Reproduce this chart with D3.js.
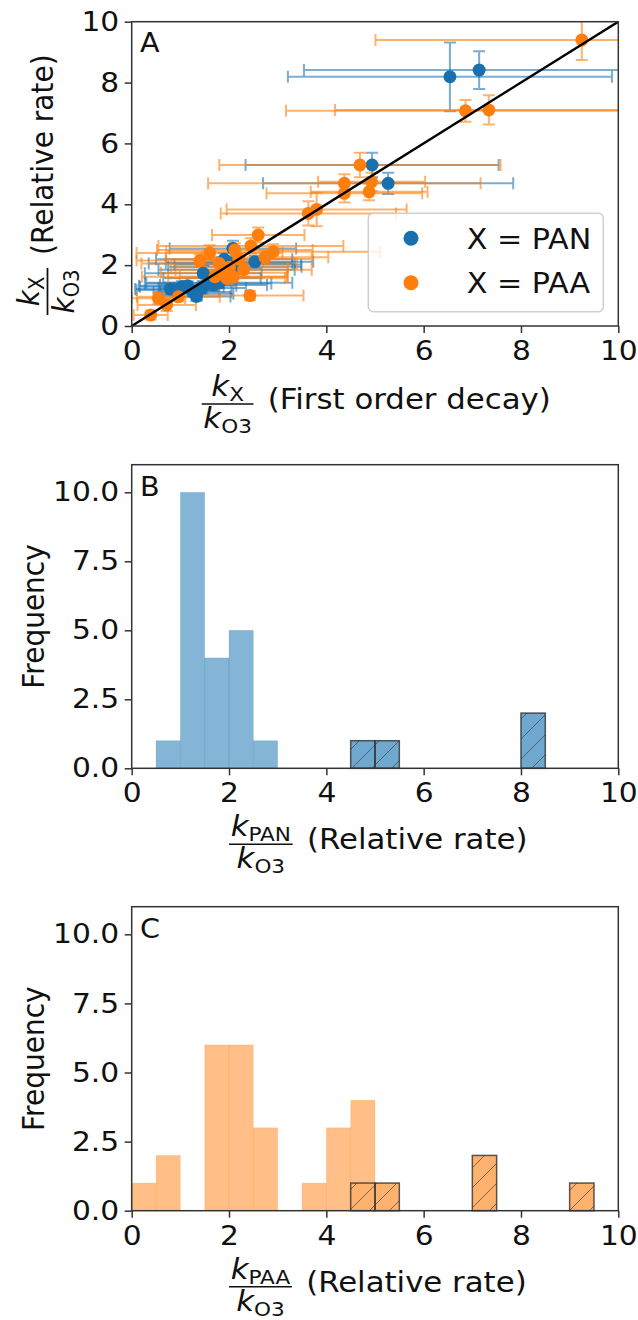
<!DOCTYPE html>
<html><head><meta charset="utf-8">
<script src="https://cdn.jsdelivr.net/npm/d3@7"></script>
<style>body{margin:0;background:#fff} text{font-family:"DejaVu Sans",sans-serif}</style>
</head><body><svg id="c" width="638" height="1320"></svg>
<script>
// ---------- DATA ----------
// Panel A: X = PAN
const panX    = [6.54, 7.14, 4.94, 5.27, 2.53, 1.90, 2.00, 1.85, 2.18, 2.08, 2.12, 1.47, 1.65, 1.95, 0.79, 1.03, 1.34, 1.15, 1.45, 1.57, 1.68, 1.80, 1.25, 0.95, 1.33];
const panY    = [8.19, 8.41, 5.29, 4.69, 2.11, 2.19, 2.08, 2.05, 2.02, 2.55, 1.95, 1.73, 1.58, 1.85, 1.22, 1.29, 1.06, 1.32, 1.25, 1.40, 1.35, 1.42, 1.12, 1.18, 0.97];
const panXerr = [3.33, 3.60, 2.60, 2.57, 1.20, 1.40, 1.30, 1.50, 1.30, 1.30, 1.37, 1.20, 1.00, 1.40, 0.72, 0.86, 0.75, 1.00, 0.90, 1.30, 1.10, 1.50, 0.80, 0.85, 0.70];
const panYerr = [1.13, 0.62, 0.40, 0.35, 0.20, 0.20, 0.18, 0.20, 0.22, 0.25, 0.20, 0.25, 0.18, 0.20, 0.20, 0.18, 0.20, 0.15, 0.18, 0.22, 0.20, 0.18, 0.15, 0.20, 0.15];
// Panel A: X = PAA
const paaX    = [9.25, 6.86, 7.34, 4.69, 4.37, 4.93, 4.88, 4.37, 3.80, 3.63, 2.60, 2.45, 2.12, 2.91, 2.74, 1.40, 2.01, 1.71, 1.95, 2.09, 2.43, 0.55, 0.72, 0.96, 0.39, 1.80, 2.20, 1.90, 2.30, 1.60];
const paaY    = [9.40, 7.07, 7.10, 5.29, 4.69, 4.74, 4.41, 4.36, 3.83, 3.70, 2.99, 2.63, 2.50, 2.44, 2.26, 2.15, 1.93, 1.62, 1.57, 1.62, 1.00, 0.91, 0.69, 0.96, 0.36, 2.05, 2.20, 1.75, 1.85, 2.40];
const paaXerr = [4.24, 3.69, 3.16, 2.89, 2.80, 1.10, 1.20, 1.60, 1.85, 1.80, 0.95, 1.90, 1.60, 2.20, 1.30, 1.30, 1.20, 1.50, 1.20, 1.10, 1.10, 0.55, 0.60, 0.85, 0.35, 1.60, 1.50, 1.30, 1.40, 1.50];
const paaYerr = [0.66, 0.36, 0.48, 0.40, 0.30, 0.30, 0.28, 0.30, 0.55, 0.40, 0.25, 0.25, 0.22, 0.25, 0.22, 0.20, 0.20, 0.20, 0.18, 0.18, 0.15, 0.18, 0.20, 0.15, 0.15, 0.20, 0.20, 0.20, 0.22, 0.25];
// Histograms (bin width 0.5)
const binStarts  = [0, 0.5, 1, 1.5, 2, 2.5, 3, 3.5, 4, 4.5, 5, 5.5, 6, 6.5, 7, 7.5, 8, 8.5, 9, 9.5];
const panCounts  = [0, 1, 10, 4, 5, 1, 0, 0, 0, 1, 1, 0, 0, 0, 0, 0, 2, 0, 0, 0];
const panHatched = [0, 0, 0, 0, 0, 0, 0, 0, 0, 1, 1, 0, 0, 0, 0, 0, 2, 0, 0, 0];
const paaCounts  = [1, 2, 0, 6, 6, 3, 0, 1, 3, 4, 1, 0, 0, 0, 2, 0, 0, 0, 1, 0];
const paaHatched = [0, 0, 0, 0, 0, 0, 0, 0, 0, 1, 1, 0, 0, 0, 2, 0, 0, 0, 1, 0];
// Ticks
const xTicks = [0, 2, 4, 6, 8, 10];
const yTicksA = [0, 2, 4, 6, 8, 10];
const yTicksH = [0, 2.5, 5, 7.5, 10];
const legendLabels = ["X = PAN", "X = PAA"];

// ---------- STYLE ----------
const BLUE = "#1a6fae", ORANGE = "#ff7f0e";
const BLUE_ERR = "#1f77b4", ORANGE_ERR = "#ff7f0e";
const TICK_FS = 27, LAB_FS = 28, SX = 1.1;
const svg = d3.select("#c");
const L = 131.7, R = 618.3;

const defs = svg.append("defs");
defs.append("clipPath").attr("id", "clipA").append("rect")
  .attr("x", L).attr("y", 21.7).attr("width", R - L).attr("height", 326 - 21.7);
const pat = defs.append("pattern").attr("id", "hatch").attr("patternUnits", "userSpaceOnUse")
  .attr("width", 20).attr("height", 20);
pat.append("path").attr("d", "M0,20 L20,0 M-2,2 L2,-2 M18,22 L22,18")
  .attr("stroke", "#444").attr("stroke-opacity", 0.7).attr("stroke-width", 1);

function htext(x, y, str, fs, sx) {
  return svg.append("text").attr("transform", `translate(${x},${y}) scale(${sx},1)`)
    .attr("font-size", fs).attr("fill", "#111").attr("xml:space", "preserve").text(str);
}

function axes(g, x, y, yt, yfmt) {
  const xa = g.append("g").attr("transform", `translate(0,${y.range()[0]})`)
    .call(d3.axisBottom(x).tickValues(xTicks).tickSize(7).tickPadding(8).tickFormat(d3.format("d")));
  const ya = g.append("g").attr("transform", `translate(${x.range()[0]},0)`)
    .call(d3.axisLeft(y).tickValues(yt).tickSize(7).tickPadding(5.5).tickFormat(yfmt));
  [xa, ya].forEach(a => {
    a.select(".domain").remove();
    a.attr("font-family", null).attr("font-size", null);
    a.selectAll("line").attr("stroke", "#333").attr("stroke-width", 1.5);
    a.selectAll("text").attr("font-size", TICK_FS).attr("fill", "#111").attr("transform", `scale(${SX},1)`);
  });
  ya.selectAll("text").attr("x", -12.5 / SX);
  g.append("rect").attr("x", x.range()[0]).attr("y", y.range()[1])
    .attr("width", x.range()[1] - x.range()[0]).attr("height", y.range()[0] - y.range()[1])
    .attr("fill", "none").attr("stroke", "#333").attr("stroke-width", 1.5);
}

function fracLabel(tx, ty, rot, numSub, denSub, rest) {
  const sc = rot === 0 ? `scale(${SX},1)` : `scale(1,${SX})`;
  const g = svg.append("g").attr("transform", `translate(${tx},${ty}) rotate(${rot}) ${sc}`).attr("fill", "#111");
  const barY = -5;
  const n = g.append("text").attr("y", barY - 8).attr("font-size", LAB_FS);
  n.append("tspan").attr("font-style", "italic").text("k");
  n.append("tspan").attr("font-size", LAB_FS * 0.7).attr("dy", 5).text(numSub);
  const d = g.append("text").attr("y", barY + 24).attr("font-size", LAB_FS);
  d.append("tspan").attr("font-style", "italic").text("k");
  d.append("tspan").attr("font-size", LAB_FS * 0.7).attr("dy", 5).text(denSub);
  const wn = n.node().getBBox().width, wd = d.node().getBBox().width;
  const W = Math.max(wn, wd) + 3;
  n.attr("x", (W - wn) / 2);
  d.attr("x", (W - wd) / 2);
  g.append("line").attr("x1", 0).attr("x2", W).attr("y1", barY).attr("y2", barY)
    .attr("stroke", "#111").attr("stroke-width", 1.6);
  g.append("text").attr("x", W + 13).attr("y", 0).attr("font-size", LAB_FS).text(rest);
}

// ---------- PANEL A ----------
const xA = d3.scaleLinear().domain([0, 10]).range([L, R]);
const yA = d3.scaleLinear().domain([0, 10]).range([326, 21.7]);
const gA = svg.append("g");
const plotA = gA.append("g").attr("clip-path", "url(#clipA)");

function errbars(g, xs, ys, xe, ye, color) {
  const idx = d3.range(xs.length);
  const cap = 6;
  const s = g.append("g").attr("stroke", color).attr("stroke-opacity", 0.6).attr("stroke-width", 2).attr("fill", "none");
  s.selectAll(null).data(idx).join("path").attr("d", i => {
    const x0 = xA(xs[i] - xe[i]), x1 = xA(xs[i] + xe[i]), yy = yA(ys[i]);
    const y0 = yA(ys[i] - ye[i]), y1 = yA(ys[i] + ye[i]), xx = xA(xs[i]);
    return `M${x0},${yy}H${x1}M${x0},${yy - cap}V${yy + cap}M${x1},${yy - cap}V${yy + cap}` +
           `M${xx},${y0}V${y1}M${xx - cap},${y0}H${xx + cap}M${xx - cap},${y1}H${xx + cap}`;
  });
}
function points(g, xs, ys, color) {
  g.append("g").selectAll(null).data(d3.range(xs.length)).join("circle")
    .attr("cx", i => xA(xs[i])).attr("cy", i => yA(ys[i])).attr("r", 6.5).attr("fill", color);
}
errbars(plotA, panX, panY, panXerr, panYerr, BLUE_ERR);
errbars(plotA, paaX, paaY, paaXerr, paaYerr, ORANGE_ERR);
points(plotA, panX, panY, BLUE);
points(plotA, paaX, paaY, ORANGE);
plotA.append("line").attr("x1", xA(0)).attr("y1", yA(0)).attr("x2", xA(10)).attr("y2", yA(10))
  .attr("stroke", "#000").attr("stroke-width", 2.4);
axes(gA, xA, yA, yTicksA, d3.format("d"));
htext(140, 52, "A", 26, SX);

// legend
const lg = svg.append("g");
lg.append("rect").attr("x", 368.3).attr("y", 213.3).attr("width", 235).attr("height", 98.4).attr("rx", 5)
  .attr("fill", "#fff").attr("fill-opacity", 0.8).attr("stroke", "#cfcfcf").attr("stroke-width", 1.5);
[BLUE, ORANGE].forEach((c, i) => {
  const cy = 238.3 + i * 44.4;
  lg.append("circle").attr("cx", 411).attr("cy", cy).attr("r", 7.5).attr("fill", c);
  htext(466.7, cy + 10.7, legendLabels[i], 29, 1.04);
});

fracLabel(201.7, 409, 0, "X", "O3", "(First order decay)");
fracLabel(53, 315, -90, "X", "O3", "(Relative rate)");

// ---------- HISTOGRAMS ----------
function hist(top, bottom, counts, hatched, color, opacity, letter, sub) {
  const x = d3.scaleLinear().domain([0, 10]).range([L, R]);
  const y = d3.scaleLinear().domain([0, 11]).range([bottom, top]);
  const g = svg.append("g");
  const idx = d3.range(binStarts.length);
  g.append("g").selectAll(null).data(idx.filter(i => counts[i] > 0)).join("rect")
    .attr("x", i => x(binStarts[i])).attr("width", i => x(binStarts[i] + 0.5) - x(binStarts[i]))
    .attr("y", i => y(counts[i])).attr("height", i => y(0) - y(counts[i]))
    .attr("fill", color).attr("fill-opacity", opacity)
    .attr("stroke", color).attr("stroke-opacity", opacity * 0.3).attr("stroke-width", 0.8);
  const hi = idx.filter(i => hatched[i] > 0);
  const hg = g.append("g");
  hg.selectAll(null).data(hi).join("rect")
    .attr("x", i => x(binStarts[i])).attr("width", i => x(binStarts[i] + 0.5) - x(binStarts[i]))
    .attr("y", i => y(hatched[i])).attr("height", i => y(0) - y(hatched[i]))
    .attr("fill", color).attr("fill-opacity", 0.2);
  hg.selectAll(null).data(hi).join("rect")
    .attr("x", i => x(binStarts[i])).attr("width", i => x(binStarts[i] + 0.5) - x(binStarts[i]))
    .attr("y", i => y(hatched[i])).attr("height", i => y(0) - y(hatched[i]))
    .attr("fill", "url(#hatch)").attr("stroke", "#333").attr("stroke-opacity", 0.8).attr("stroke-width", 1.5);
  axes(g, x, y, yTicksH, d3.format(".1f"));
  htext(140, top + 31, letter, 26, SX);
  svg.append("text").attr("transform", `translate(44,${(top + bottom) / 2}) rotate(-90) scale(1,${SX})`)
    .attr("text-anchor", "middle").attr("font-size", LAB_FS).attr("fill", "#111").text("Frequency");
  fracLabel(229, bottom + 81, 0, sub, "O3", "(Relative rate)");
}
hist(464.7, 768.3, panCounts, panHatched, "#1f77b4", 0.55, "B", "PAN");
hist(906.7, 1210.7, paaCounts, paaHatched, "#ff7f0e", 0.5, "C", "PAA");
</script></body></html>
